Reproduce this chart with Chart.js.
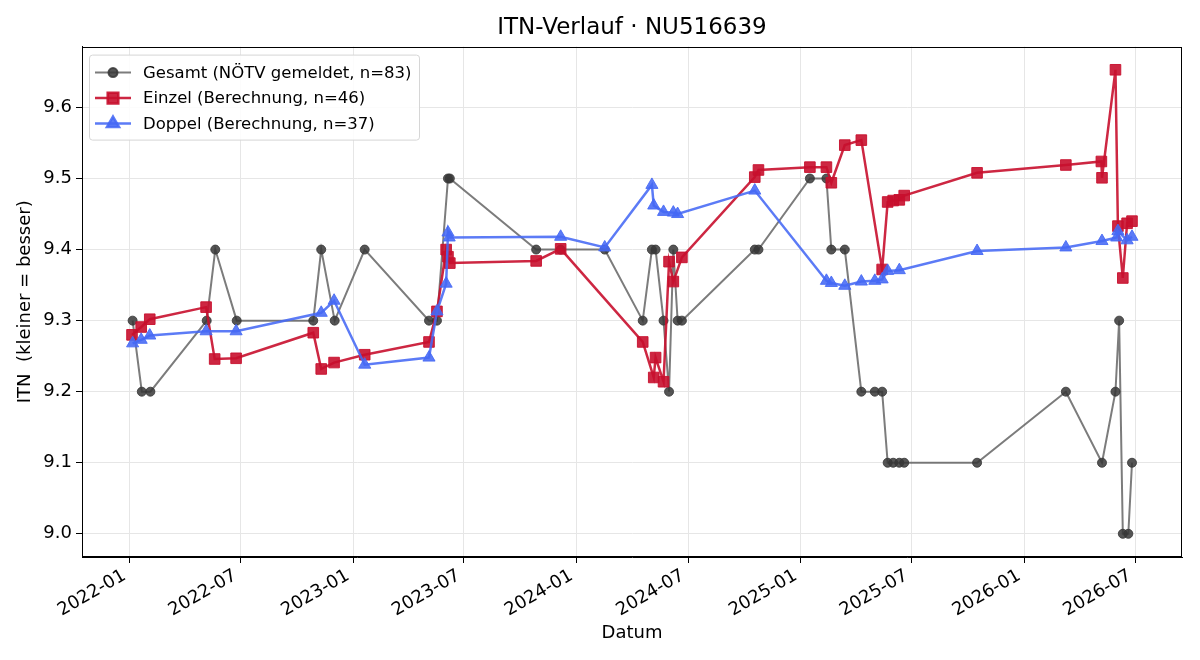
<!DOCTYPE html>
<html>
<head>
<meta charset="utf-8">
<script src="https://cdn.jsdelivr.net/npm/chart.js@4.4.1/dist/chart.umd.min.js"></script>
<style>
    html, body { margin: 0; padding: 0; background: #fff; }
    #wrap { width: 1200px; height: 660px; }
</style>
</head>
<body>
<div id="wrap"><canvas id="itnChart" width="1200" height="660"></canvas></div>
<script>
// Gesamt (NÖTV gemeldet)
const gesamtDates = [
    "2022-01-06", "2022-01-21", "2022-02-04", "2022-05-07", "2022-05-21", "2022-06-25",
    "2022-10-28", "2022-11-10", "2022-12-02", "2023-01-20", "2023-05-05", "2023-05-18",
    "2023-06-05", "2023-06-08", "2023-10-27", "2023-12-06", "2024-02-16", "2024-04-18",
    "2024-05-03", "2024-05-09", "2024-05-22", "2024-05-31", "2024-06-07", "2024-06-14",
    "2024-06-21", "2024-10-18", "2024-10-24", "2025-01-16", "2025-02-12", "2025-02-20",
    "2025-03-14", "2025-04-10", "2025-05-02", "2025-05-14", "2025-05-23", "2025-06-01",
    "2025-06-11", "2025-06-19", "2025-10-16", "2026-03-10", "2026-05-08", "2026-05-30",
    "2026-06-05", "2026-06-11", "2026-06-20", "2026-06-26"
];
const gesamtValues = [
    9.3, 9.2, 9.2, 9.3, 9.4, 9.3,
    9.3, 9.4, 9.3, 9.4, 9.3, 9.3,
    9.5, 9.5, 9.4, 9.4, 9.4, 9.3,
    9.4, 9.4, 9.3, 9.2, 9.4, 9.3,
    9.3, 9.4, 9.4, 9.5, 9.5, 9.4,
    9.4, 9.2, 9.2, 9.2, 9.1, 9.1,
    9.1, 9.1, 9.1, 9.2, 9.1, 9.2,
    9.3, 9.0, 9.0, 9.1
];

// Einzel (Berechnung)
const einzelDates = [
    "2022-01-05", "2022-01-20", "2022-02-03", "2022-05-06", "2022-05-20", "2022-06-24",
    "2022-10-28", "2022-11-10", "2022-12-01", "2023-01-20", "2023-05-05", "2023-05-18",
    "2023-06-02", "2023-06-05", "2023-06-08", "2023-10-27", "2023-12-06", "2024-04-18",
    "2024-05-06", "2024-05-09", "2024-05-22", "2024-05-31", "2024-06-07", "2024-06-21",
    "2024-10-18", "2024-10-24", "2025-01-16", "2025-02-12", "2025-02-20", "2025-03-14",
    "2025-04-10", "2025-05-14", "2025-05-23", "2025-06-01", "2025-06-11", "2025-06-19",
    "2025-10-16", "2026-03-10", "2026-05-07", "2026-05-08", "2026-05-30", "2026-06-03",
    "2026-06-11", "2026-06-18", "2026-06-26"
];
const einzelValues = [
    9.280, 9.291, 9.302, 9.319, 9.246, 9.247,
    9.283, 9.232, 9.241, 9.252, 9.270, 9.313,
    9.400, 9.390, 9.381, 9.384, 9.401, 9.270,
    9.220, 9.248, 9.214, 9.383, 9.355, 9.389,
    9.502, 9.512, 9.516, 9.516, 9.494, 9.547,
    9.554, 9.372, 9.467, 9.469, 9.470, 9.476,
    9.508, 9.519, 9.524, 9.501, 9.653, 9.433,
    9.360, 9.437, 9.440
];

// Doppel (Berechnung)
const doppelDates = [
    "2022-01-06", "2022-01-20", "2022-02-03", "2022-05-06", "2022-06-24", "2022-11-10",
    "2022-12-01", "2023-01-20", "2023-05-05", "2023-05-18", "2023-06-02", "2023-06-05",
    "2023-06-07", "2023-12-06", "2024-02-16", "2024-05-03", "2024-05-06", "2024-05-22",
    "2024-06-07", "2024-06-14", "2024-10-18", "2025-02-12", "2025-02-20", "2025-03-14",
    "2025-04-10", "2025-05-02", "2025-05-14", "2025-05-23", "2025-06-11", "2025-10-16",
    "2026-03-10", "2026-05-08", "2026-06-01", "2026-06-03", "2026-06-18", "2026-06-26"
];
const doppelValues = [
    9.268, 9.273, 9.279, 9.285, 9.285, 9.311,
    9.328, 9.238, 9.248, 9.313, 9.352, 9.424,
    9.417, 9.418, 9.403, 9.491, 9.462, 9.453,
    9.452, 9.450, 9.483, 9.356, 9.353, 9.349,
    9.355, 9.356, 9.358, 9.370, 9.371, 9.398,
    9.403, 9.412, 9.417, 9.426, 9.413, 9.418
];

const xTickMonths = [
    "2022-01", "2022-07", "2023-01", "2023-07", "2024-01",
    "2024-07", "2025-01", "2025-07", "2026-01", "2026-07"
];
const yTickValues = [9.0, 9.1, 9.2, 9.3, 9.4, 9.5, 9.6];

const FONT = "'DejaVu Sans', sans-serif";

function toTime(text) {
    const p = text.split("-");
    return Date.UTC(Number(p[0]), Number(p[1]) - 1, p[2] ? Number(p[2]) : 1);
}

function toPoints(dates, values) {
    return dates.map(function (d, i) {
        return { x: toTime(d), y: values[i] };
    });
}

function monthLabel(value) {
    const d = new Date(value);
    return d.getUTCFullYear() + "-" + String(d.getUTCMonth() + 1).padStart(2, "0");
}

// matplotlib style 5% margins around the data
const allX = [].concat(gesamtDates, einzelDates, doppelDates).map(toTime);
const allY = [].concat(gesamtValues, einzelValues, doppelValues);
const xLo = Math.min.apply(null, allX);
const xHi = Math.max.apply(null, allX);
const yLo = Math.min.apply(null, allY);
const yHi = Math.max.apply(null, allY);
const xPad = (xHi - xLo) * 0.05;
const yPad = (yHi - yLo) * 0.05;

// box round the plot, title centred over the plot area
const frame = {
    id: "frame",
    afterLayout(chart) {
        const t = chart.titleBlock;
        if (t) {
            t.left = chart.chartArea.left;
            t.right = chart.chartArea.right;
        }
    },
    afterDraw(chart) {
        const a = chart.chartArea;
        const ctx = chart.ctx;
        ctx.save();
        ctx.strokeStyle = "#000";
        ctx.lineWidth = 1;
        ctx.strokeRect(Math.round(a.left) + 0.5, Math.round(a.top) + 0.5,
            Math.round(a.right - a.left) - 1, Math.round(a.bottom - a.top) - 1);
        ctx.restore();
    }
};

const legendBox = {
    id: "legendBox",
    afterDatasetsDraw(chart) {
        const ctx = chart.ctx;
        const a = chart.chartArea;
        const x = a.left + 7;
        const y = a.top + 8;
        const w = 330;
        const h = 85;

        ctx.save();
        ctx.beginPath();
        ctx.roundRect(x + 0.5, y + 0.5, w, h, 3);
        ctx.fillStyle = "rgba(255,255,255,0.85)";
        ctx.fill();
        ctx.strokeStyle = "#d6d6d6";
        ctx.lineWidth = 1;
        ctx.stroke();

        chart.data.datasets.forEach(function (ds, i) {
            const cy = y + 18 + i * 25.5;
            ctx.strokeStyle = ds.borderColor;
            ctx.lineWidth = ds.borderWidth;
            ctx.beginPath();
            ctx.moveTo(x + 6, cy);
            ctx.lineTo(x + 42, cy);
            ctx.stroke();

            ctx.fillStyle = ds.pointBackgroundColor;
            ctx.strokeStyle = ds.pointBorderColor;
            Chart.helpers.drawPoint(ctx, {
                pointStyle: ds.pointStyle,
                radius: ds.pointRadius,
                borderWidth: 1,
                rotation: 0
            }, x + 24, cy);

            ctx.fillStyle = "#000";
            ctx.font = "16.5px " + FONT;
            ctx.textBaseline = "middle";
            ctx.textAlign = "left";
            ctx.fillText(ds.label, x + 54, cy + 1);
        });
        ctx.restore();
    }
};

new Chart(document.getElementById("itnChart"), {
    type: "line",
    data: {
        datasets: [
            {
                label: "Gesamt (NÖTV gemeldet, n=83)",
                data: toPoints(gesamtDates, gesamtValues),
                borderColor: "rgba(80,80,80,0.75)",
                borderWidth: 2,
                pointStyle: "circle",
                pointRadius: 4.5,
                pointBackgroundColor: "rgba(55,55,55,0.85)",
                pointBorderColor: "rgba(55,55,55,0.85)",
                pointBorderWidth: 1,
                tension: 0,
                order: 3
            },
            {
                label: "Einzel (Berechnung, n=46)",
                data: toPoints(einzelDates, einzelValues),
                borderColor: "rgba(200,16,46,0.9)",
                borderWidth: 2.5,
                pointStyle: "rect",
                pointRadius: 7.5,
                pointBackgroundColor: "rgba(200,16,46,0.9)",
                pointBorderColor: "rgba(200,16,46,0.9)",
                pointBorderWidth: 1,
                tension: 0,
                order: 2
            },
            {
                label: "Doppel (Berechnung, n=37)",
                data: toPoints(doppelDates, doppelValues),
                borderColor: "rgba(70,105,245,0.88)",
                borderWidth: 2.5,
                pointStyle: "triangle",
                pointRadius: 7,
                pointBackgroundColor: "rgba(70,105,245,0.88)",
                pointBorderColor: "rgba(70,105,245,0.88)",
                pointBorderWidth: 1,
                tension: 0,
                order: 1
            }
        ]
    },
    options: {
        responsive: false,
        animation: false,
        devicePixelRatio: 1,
        layout: { padding: { left: 11, right: 18, top: 0, bottom: 12 } },
        plugins: {
            legend: { display: false },
            tooltip: { enabled: false },
            title: {
                display: true,
                text: "ITN-Verlauf · NU516639",
                color: "#000",
                font: { family: FONT, size: 23, weight: "normal" },
                padding: { top: 14, bottom: 5 }
            }
        },
        scales: {
            x: {
                type: "linear",
                min: xLo - xPad,
                max: xHi + xPad,
                afterBuildTicks(scale) {
                    scale.ticks = xTickMonths.map(function (m) {
                        return { value: toTime(m) };
                    });
                },
                afterFit(scale) {
                    scale.height = 91;
                },
                ticks: {
                    autoSkip: false,
                    minRotation: 30,
                    maxRotation: 30,
                    padding: 2,
                    labelOffset: -5,
                    color: "#000",
                    font: { family: FONT, size: 18 },
                    callback: function (value) { return monthLabel(value); }
                },
                grid: { color: "#e6e6e6", lineWidth: 1, tickColor: "#000", tickLength: 6 },
                border: { display: true, color: "#000", width: 1 },
                title: {
                    display: true,
                    text: "Datum",
                    color: "#000",
                    font: { family: FONT, size: 18 }
                }
            },
            y: {
                min: yLo - yPad,
                max: yHi + yPad,
                afterBuildTicks(scale) {
                    scale.ticks = yTickValues.map(function (v) {
                        return { value: v };
                    });
                },
                afterFit(scale) {
                    scale.width = 71;
                },
                ticks: {
                    padding: 4,
                    color: "#000",
                    font: { family: FONT, size: 18 },
                    callback: function (value) { return Number(value).toFixed(1); }
                },
                grid: { color: "#e6e6e6", lineWidth: 1, tickColor: "#000", tickLength: 6 },
                border: { display: true, color: "#000", width: 1 },
                title: {
                    display: true,
                    text: "ITN  (kleiner = besser)",
                    color: "#000",
                    font: { family: FONT, size: 18 }
                }
            }
        }
    },
    plugins: [frame, legendBox]
});
</script>
</body>
</html>
